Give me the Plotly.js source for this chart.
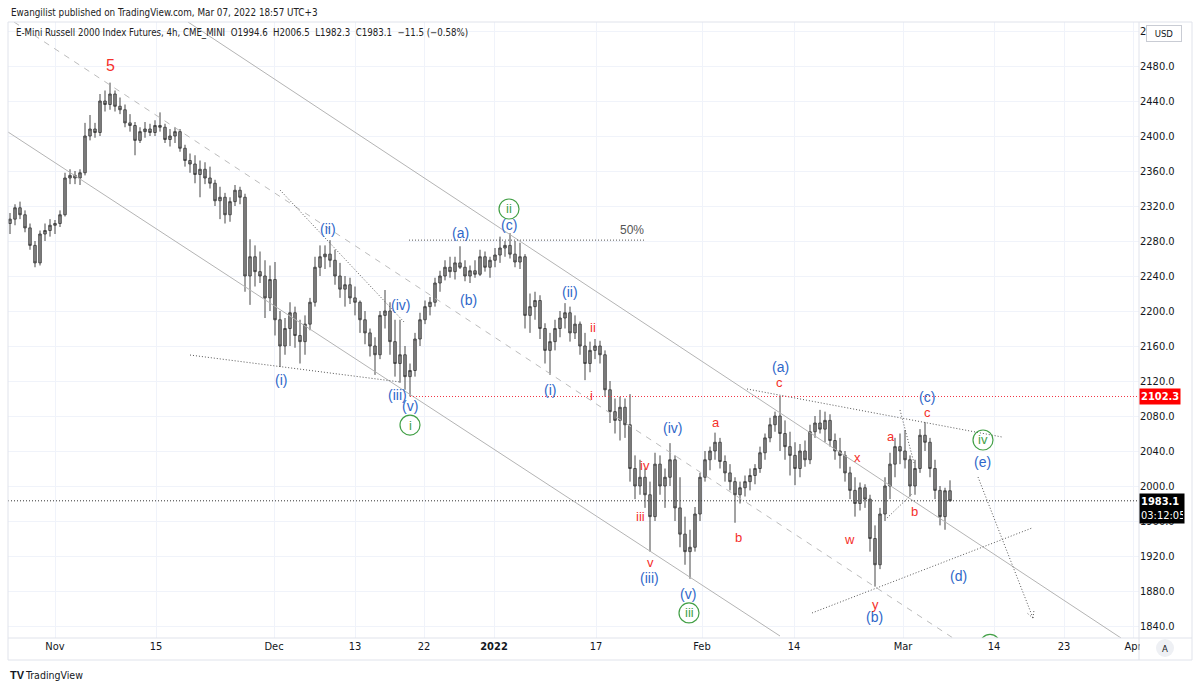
<!DOCTYPE html>
<html><head><meta charset="utf-8">
<script src="https://cdn.plot.ly/plotly-3.0.1.min.js"></script>
<style>html,body{margin:0;padding:0;background:#fff;}#chart{width:1200px;height:689px;}</style>
</head><body><div id="chart"></div>
<script>
const openP = [
2300,2305,2318,2310,2295,2275,2255,2288,2292,2298,
2300,2310,2352,2355,2352,2358,2400,2408,2404,2440,
2436,2448,2434,2430,2415,2412,2395,2405,2408,2404,
2412,2410,2396,2400,2405,2386,2372,2368,2356,2362,
2352,2346,2326,2330,2310,2325,2338,2330,2240,2262,
2245,2240,2215,2236,2190,2160,2180,2198,2172,2165,
2185,2210,2250,2262,2265,2258,2240,2225,2230,2215,
2210,2190,2175,2160,2150,2195,2200,2165,2140,2150,
2125,2132,2168,2190,2205,2210,2232,2240,2250,2245,
2255,2250,2240,2246,2242,2262,2250,2258,2264,2272,
2275,2265,2256,2262,2195,2205,2212,2180,2155,2165,
2180,2192,2198,2175,2185,2160,2140,2155,2160,2150,
2110,2085,2075,2090,2070,2020,2000,2010,1990,1965,
2025,2000,2010,2030,1975,1945,1925,1930,1968,2010,
2030,2040,2050,2028,2015,2005,1990,1998,2005,2012,
2020,2038,2055,2070,2080,2060,2045,2035,2020,2040,
2030,2062,2072,2065,2075,2052,2040,2035,2015,1995,
1980,1998,1985,1940,1910,1968,2000,2025,2045,2040,
2030,2000,2020,2058,2050,2020,1995,1965,1994.6];
const highP = [
2312,2322,2325,2315,2300,2280,2292,2300,2305,2304,
2315,2358,2362,2360,2362,2415,2424,2415,2448,2452,
2461,2452,2444,2436,2425,2416,2410,2416,2414,2418,
2427,2414,2408,2410,2408,2390,2380,2378,2372,2370,
2365,2350,2342,2335,2330,2344,2342,2334,2282,2275,
2268,2258,2252,2256,2200,2192,2210,2205,2190,2195,
2215,2262,2275,2275,2281,2270,2255,2240,2238,2228,
2212,2200,2180,2170,2200,2224,2210,2190,2190,2160,
2140,2175,2198,2212,2216,2238,2246,2258,2262,2262,
2274,2258,2252,2258,2270,2268,2262,2272,2285,2280,
2289,2280,2278,2265,2220,2222,2218,2186,2175,2190,
2200,2209,2205,2195,2188,2175,2165,2168,2166,2155,
2120,2100,2102,2100,2105,2035,2030,2020,2005,2038,
2035,2020,2049,2035,2010,1965,1950,1976,2015,2040,
2045,2061,2055,2035,2025,2010,2005,2012,2020,2025,
2045,2060,2078,2085,2103,2075,2062,2050,2048,2052,
2070,2080,2087,2085,2082,2060,2055,2040,2022,2010,
2004,2002,1990,1955,1975,2010,2038,2055,2060,2064,
2035,2030,2065,2073,2055,2030,2000,1998,2006.5];
const lowP = [
2288,2298,2305,2290,2270,2250,2252,2280,2285,2288,
2296,2308,2345,2345,2344,2355,2395,2398,2400,2428,
2430,2428,2425,2410,2405,2378,2392,2398,2400,2400,
2405,2392,2388,2392,2382,2365,2358,2346,2330,2345,
2340,2320,2305,2300,2302,2320,2322,2222,2207,2228,
2232,2192,2200,2172,2136,2150,2160,2158,2140,2150,
2178,2205,2240,2248,2250,2230,2215,2205,2208,2195,
2175,2162,2148,2127,2145,2180,2150,2125,2118,2110,
2102.3,2125,2160,2185,2195,2205,2222,2235,2238,2236,
2248,2234,2232,2238,2240,2245,2238,2250,2255,2262,
2260,2250,2248,2180,2175,2190,2168,2140,2127,2155,
2170,2180,2165,2168,2150,2121,2130,2145,2140,2102,
2072,2060,2052,2055,2005,1985,1990,1975,1925,1960,
1990,1975,2000,1960,1930,1910,1894,1925,1960,2005,
2018,2030,2020,2005,1995,1958,1980,1988,1995,2002,
2015,2030,2050,2062,2040,2030,2012,2001,2010,2022,
2025,2055,2060,2050,2045,2030,2020,2005,1985,1965,
1972,1975,1925,1885,1905,1960,1985,2010,2025,2020,
1988,1990,2015,2040,2010,1985,1955,1950,1982.3];
const closeP = [
2305,2318,2310,2295,2275,2255,2288,2292,2298,2300,
2310,2352,2355,2352,2358,2400,2408,2404,2440,2436,
2448,2434,2430,2415,2412,2395,2405,2408,2404,2412,
2410,2396,2400,2405,2386,2372,2368,2356,2362,2352,
2346,2326,2330,2310,2325,2338,2330,2240,2262,2245,
2240,2215,2236,2190,2160,2180,2198,2172,2165,2185,
2210,2250,2262,2265,2258,2240,2225,2230,2215,2210,
2190,2175,2160,2150,2195,2200,2165,2140,2150,2125,
2132,2168,2190,2205,2210,2232,2240,2250,2245,2255,
2250,2240,2246,2242,2262,2250,2258,2264,2272,2275,
2265,2256,2262,2195,2205,2212,2180,2155,2165,2180,
2192,2198,2175,2185,2160,2140,2155,2160,2150,2110,
2085,2075,2090,2070,2020,2000,2010,1990,1965,2025,
2000,2010,2030,1975,1945,1925,1930,1968,2010,2030,
2040,2050,2028,2015,2005,1990,1998,2005,2012,2020,
2038,2055,2070,2080,2060,2045,2035,2020,2040,2030,
2062,2072,2065,2075,2052,2040,2035,2015,1995,1980,
1998,1985,1940,1910,1968,2000,2025,2045,2040,2030,
2000,2020,2058,2050,2020,1995,1965,1994.6,1983.1];

// time-axis labels (bar position of each date) and price ticks
const xTickText = ['Nov','15','Dec','13','22','<b>2022</b>','17','Feb','14','Mar','14','23','Apr'];
const xTickBar  = [9, 29.2, 52.8, 69, 82.8, 96.8, 117.2, 138.4, 156.8, 178.6, 196.8, 210.8, 224.6];
const yTickVals = [1840,1880,1920,1960,2000,2040,2080,2120,2160,2200,2240,2280,2320,2360,2400,2440,2480,2520];

const lastClose = 1983.1;
const markedLevel = 2102.3;
const fiftyLevel = 2281;

// Elliott-wave labels: [text, bar, price, colour group]
const waveLabels = [
 ['5',20,2481,'r5'],
 ['(ii)',63.6,2293.7,'b'],['(i)',54.2,2121.1,'b'],['(iv)',78,2206.9,'b'],['(iii)',77.4,2104,'b'],['(v)',80,2091.4,'b'],
 ['(a)',90,2289.1,'b'],['(b)',91.6,2212.6,'b'],['(c)',99.8,2298.3,'b'],['(ii)',112,2221.7,'b'],['(i)',108,2109.7,'b'],
 ['(iv)',132.4,2066.3,'b'],['(iii)',127.8,1895,'b'],['(v)',135.6,1876.6,'b'],['(a)',154,2136.5,'b'],['(c)',183.4,2101.5,'b'],
 ['(e)',194.4,2027.4,'b'],['(d)',189.6,1897.1,'b'],['(b)',172.8,1850.3,'b'],
 ['ii',116.6,2181.7,'r'],['i',116.2,2104,'r'],['iv',127,2024,'r'],['iii',126,1965.7,'r'],['v',128,1913,'r'],
 ['a',141.2,2073.1,'r'],['b',145.6,1940.6,'r'],['c',153.8,2118,'r'],['x',169.4,2033.1,'r'],['w',167.8,1939.4,'r'],
 ['y',173,1865.1,'r'],['a',176.2,2057.1,'r'],['b',180.8,1971.4,'r'],['c',183.4,2084.5,'r']
];
const circledLabels = [['ii',99.8,2316.6],['i',80,2069.7],['iii',135.8,1854.9],['iv',194.6,2052.6],['',196,1819]];

// trend-line drawings: [bar0, price0, bar1, price1, style]
const drawings = [
 [-0.4,2404.6,154,1828.6,'solid'],
 [35.6,2530.3,222.2,1826.3,'solid'],
 [0.8,2530.3,188.6,1826.3,'dash'],
 [54,2338.3,79,2186.3,'dot'],
 [36,2149.7,78,2118.9,'dot'],
 [79.8,fiftyLevel,127,fiftyLevel,'dot'],
 [147.4,2110.9,198.4,2056,'dot'],
 [160.4,1854.9,204.4,1952,'dot'],
 [178,2086.9,180.8,2026.3,'dot'],
 [175.4,1963.4,180.4,1990.9,'dot'],
 [193.6,2010.3,204.6,1849.1,'dot'],
 [204.6,1849.1,204.8,1858.3,'dot'],
 [204.6,1849.1,203.4,1854.9,'dot']
];

const F = '"Liberation Sans Narrow","DejaVu Sans Condensed","Liberation Sans",sans-serif';
const LF = '"Liberation Sans",Arial,sans-serif';
const BLUE = '#2f67c9', RED = '#f5302b', GREEN = '#43a047';
const PR = 1139;                       // right edge of the chart pane (px)
const px = x => (x - 8) / (PR - 8), py = y => (638 - y) / 616;
const X_MAX = (PR - 10) / 5;

const barIdx = closeP.map((_, i) => i);
const trace = {
  type: 'candlestick', x: barIdx, open: openP, high: highP, low: lowP, close: closeP,
  increasing: {line: {color: '#474747', width: 1}, fillcolor: '#8e8e8e'},
  decreasing: {line: {color: '#474747', width: 1}, fillcolor: '#8e8e8e'},
  whiskerwidth: 0, hoverinfo: 'skip', showlegend: false
};

const shapes = [];
drawings.forEach(d => {
  const st = d[4];
  shapes.push({type: 'line', xref: 'x', yref: 'y', x0: d[0], y0: d[1], x1: d[2], y1: d[3], layer: 'above',
    line: {color: st === 'solid' ? '#b4b4b4' : (st === 'dash' ? '#bcbcbc' : '#555'), width: 1,
           dash: st === 'solid' ? 'solid' : (st === 'dash' ? '6px,6px' : '1px,2px')}});
});
shapes.push({type: 'line', xref: 'x', yref: 'y', x0: 80, x1: X_MAX, y0: markedLevel, y1: markedLevel,
  line: {color: '#f23645', width: 1, dash: '1px,2px'}});
shapes.push({type: 'line', xref: 'paper', yref: 'y', x0: 0, x1: 1, y0: lastClose, y1: lastClose,
  line: {color: '#333', width: 1, dash: '1px,2px'}});
circledLabels.forEach(c => {
  shapes.push({type: 'circle', xref: 'x', yref: 'y', xsizemode: 'pixel', ysizemode: 'pixel',
    xanchor: c[1], yanchor: c[2], x0: -10, x1: 10, y0: -10, y1: 10, line: {color: GREEN, width: 1.2}});
});
// frame, price-axis pane and time-axis overflow cover
const fr = {color: '#e0e3eb', width: 1};
shapes.push({type: 'rect', xref: 'paper', yref: 'paper', x0: px(1140), x1: px(1191), y0: py(659), y1: py(639),
  fillcolor: '#fff', line: {width: 0}, layer: 'above'});
shapes.push({type: 'rect', xref: 'paper', yref: 'paper', x0: 0, x1: px(1192), y0: py(660), y1: 1, line: fr, layer: 'above'});
shapes.push({type: 'line', xref: 'paper', yref: 'paper', x0: 0, x1: px(1192), y0: 0, y1: 0, line: fr, layer: 'above'});
shapes.push({type: 'line', xref: 'paper', yref: 'paper', x0: 1, x1: 1, y0: py(660), y1: 1, line: fr, layer: 'above'});
shapes.push({type: 'circle', xref: 'paper', yref: 'paper', x0: px(1156), x1: px(1174), y0: py(657), y1: py(639),
  fillcolor: '#eef0f4', line: {width: 0}, layer: 'above'});

const annotations = [];
waveLabels.forEach(l => {
  const c = l[3];
  annotations.push({x: l[1], y: l[2], xref: 'x', yref: 'y', text: l[0], showarrow: false,
    xanchor: 'center', yanchor: 'middle',
    font: {family: LF, size: c === 'b' ? 14 : (c === 'r5' ? 16 : 13), color: c === 'b' ? BLUE : RED}});
});
circledLabels.forEach(c => {
  if (c[0]) annotations.push({x: c[1], y: c[2], xref: 'x', yref: 'y', text: c[0], showarrow: false,
    xanchor: 'center', yanchor: 'middle', font: {family: LF, size: 13, color: GREEN}});
});
annotations.push({x: 124.4, y: 2292.6, xref: 'x', yref: 'y', text: '50%', showarrow: false,
  xanchor: 'center', yanchor: 'middle', font: {family: LF, size: 12, color: '#555'}});
// header
const HF = '"DejaVu Sans Condensed","Liberation Sans Narrow",sans-serif';
annotations.push({x: px(9), y: py(12), xref: 'paper', yref: 'paper', xanchor: 'left', yanchor: 'middle', showarrow: false,
  text: 'Ewangilist published on TradingView.com, Mar 07, 2022 18:57 UTC+3', font: {family: HF, size: 9.8, color: '#222'}});
annotations.push({x: px(14), y: py(33), xref: 'paper', yref: 'paper', xanchor: 'left', yanchor: 'middle', showarrow: false,
  text: 'E-Mini Russell 2000 Index Futures, 4h, CME_MINI&nbsp;&nbsp;O1994.6&nbsp;&nbsp;H2006.5&nbsp;&nbsp;L1982.3&nbsp;&nbsp;C1983.1&nbsp;&nbsp;\u221211.5 (\u22120.58%)',
  font: {family: HF, size: 9.6, color: '#222'}});
annotations.push({x: px(8), y: py(675), xref: 'paper', yref: 'paper', xanchor: 'left', yanchor: 'middle', showarrow: false,
  text: '<b>TV</b>', font: {family: LF, size: 11, color: '#131722'}});
annotations.push({x: px(23), y: py(675), xref: 'paper', yref: 'paper', xanchor: 'left', yanchor: 'middle', showarrow: false,
  text: 'TradingView', font: {family: HF, size: 10.5, color: '#131722'}});
annotations.push({x: px(1164), y: py(33), xref: 'paper', yref: 'paper', xanchor: 'center', yanchor: 'middle',
  showarrow: false, text: 'USD', bgcolor: '#fff', bordercolor: '#c9ccd4', borderwidth: 1, borderpad: 2, width: 30,
  font: {family: HF, size: 9.5, color: '#131722'}});
annotations.push({x: px(1165), y: py(648), xref: 'paper', yref: 'paper', xanchor: 'center', yanchor: 'middle',
  showarrow: false, text: 'A', font: {family: HF, size: 9.5, color: '#131722'}});
annotations.push({x: 1, y: markedLevel, xref: 'paper', yref: 'y', xanchor: 'left', yanchor: 'middle', showarrow: false,
  text: '<b>' + markedLevel.toFixed(1) + '</b>', bgcolor: '#ff0000', width: 38, align: 'left', borderpad: 1,
  font: {family: F, size: 11, color: '#fff'}});
annotations.push({x: 1, y: lastClose, xref: 'paper', yref: 'y', xanchor: 'left', yanchor: 'top', yshift: 8,
  showarrow: false, text: '<b>' + lastClose.toFixed(1) + '</b><br>03:12:05', bgcolor: '#000', width: 42,
  align: 'left', borderpad: 1, font: {family: F, size: 11, color: '#fff'}});

const layout = {
  width: 1200, height: 689, margin: {l: 8, r: 1200 - PR, t: 22, b: 51},
  paper_bgcolor: '#fff', plot_bgcolor: '#fff', showlegend: false,
  xaxis: {range: [-0.4, X_MAX], tickmode: 'array', tickvals: xTickBar, ticktext: xTickText,
    showgrid: true, gridcolor: '#f0f3fa', zeroline: false, showline: false, ticks: '',
    tickfont: {family: F, size: 11, color: '#131722'}, rangeslider: {visible: false}, fixedrange: true},
  yaxis: {range: [1826.3, 2530.3], side: 'right', tickmode: 'array', tickvals: yTickVals,
    ticktext: yTickVals.map(v => v.toFixed(1)), showgrid: true, gridcolor: '#f0f3fa', zeroline: false,
    showline: false, ticks: '', tickfont: {family: F, size: 11, color: '#131722'}, fixedrange: true},
  shapes: shapes, annotations: annotations
};
Plotly.newPlot('chart', [trace], layout, {displayModeBar: false, staticPlot: true});
</script>
</body></html>
